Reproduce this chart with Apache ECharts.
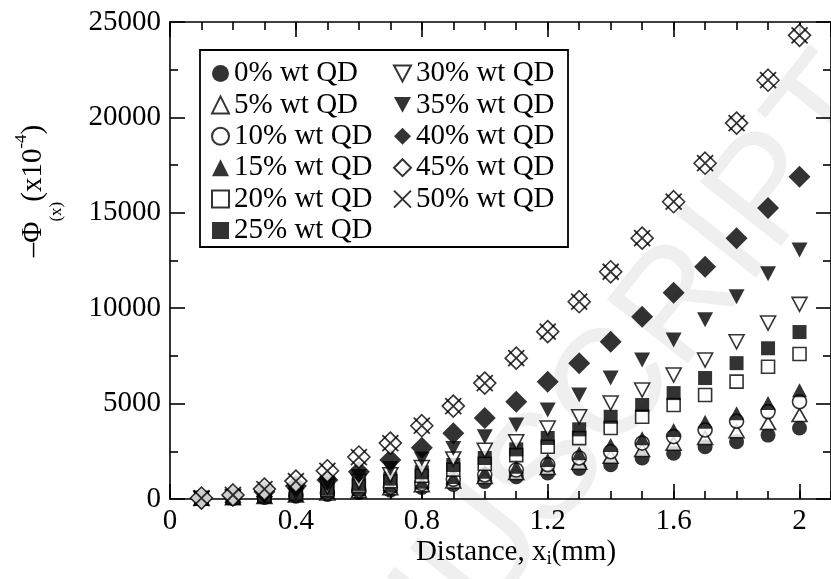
<!DOCTYPE html>
<html>
<head>
<meta charset="utf-8">
<script src="https://cdn.jsdelivr.net/npm/echarts@6/dist/echarts.min.js"></script>
<style>
html,body{margin:0;padding:0;background:#fff;}
#c{width:831px;height:579px;}
</style>
</head>
<body>
<div id="c"></div>
<script>
// ---- data ----
const distance = [0.1,0.2,0.3,0.4,0.5,0.6,0.7,0.8,0.9,1.0,1.1,1.2,1.3,1.4,1.5,1.6,1.7,1.8,1.9,2.0];
const seriesNames = ['0% wt QD','5% wt QD','10% wt QD','15% wt QD','20% wt QD','25% wt QD','30% wt QD','35% wt QD','40% wt QD','45% wt QD','50% wt QD'];
const qd0  = [10,38,85,150,235,340,460,600,760,920,1170,1360,1600,1800,2150,2400,2740,3000,3350,3720];
const qd5  = [11,45,100,180,285,410,560,720,920,1150,1360,1620,1900,2220,2570,2900,3200,3550,3980,4400];
const qd10 = [13,51,115,205,320,460,620,810,1030,1260,1520,1800,2150,2480,2930,3270,3620,4080,4580,5100];
const qd15 = [14,57,128,228,355,510,700,910,1150,1430,1690,2040,2400,2830,3190,3620,4050,4500,5030,5700];
const qd20 = [19,76,170,305,480,690,930,1220,1540,1850,2300,2740,3190,3720,4310,4930,5450,6150,6930,7600];
const qd25 = [22,88,200,350,550,790,1070,1400,1780,2150,2600,3200,3650,4310,4925,5550,6340,7120,7900,8750];
const qd30 = [26,100,230,410,650,930,1270,1650,2100,2550,3000,3720,4310,5030,5710,6500,7280,8240,9220,10200];
const qd35 = [33,130,300,520,820,1180,1600,2100,2650,3265,3880,4660,5450,6340,7280,8330,9400,10600,11800,13050];
const qd40 = [42,170,380,680,1000,1430,2040,2690,3450,4240,5100,6150,7120,8240,9550,10810,12170,13670,15250,16890];
const qd45 = [50,210,520,940,1480,2200,2930,3840,4870,6075,7380,8770,10340,11910,13670,15580,17600,19700,21950,24300];
const qd50 = [50,210,520,940,1480,2200,2930,3840,4870,6075,7380,8770,10340,11910,13670,15580,17600,19700,21950,24300];
const seriesValues = [qd0,qd5,qd10,qd15,qd20,qd25,qd30,qd35,qd40,qd45,qd50];
const xTicksMajor = 0.4, xTicksMinor = 0.1, xMin = 0, xMax = 2.1;
const yTicksMajor = 5000, yMin = 0, yMax = 25000;

// ---- styling ----
const F = 'Liberation Serif';
const filled = {color:'#000', borderColor:'#000', borderWidth:0};
const hollow = {color:'#fff', borderColor:'#000', borderWidth:1.6};
const cross = {color:'transparent', borderColor:'#000', borderWidth:1.8};
const DOWN = 'path://M0,0L10,0L5,9.3Z';
const marks = [
  {symbol:'circle', size:15, st:filled},
  {symbol:'triangle', size:[15,13], st:hollow},
  {symbol:'circle', size:14, st:hollow},
  {symbol:'triangle', size:[15,14], st:filled},
  {symbol:'rect', size:13, st:hollow},
  {symbol:'rect', size:14, st:filled},
  {symbol:DOWN, size:[15,14], st:hollow},
  {symbol:DOWN, size:[16,15], st:filled},
  {symbol:'diamond', size:22, st:filled},
  {symbol:'diamond', size:22, st:hollow},
  {symbol:'path://M0,0L10,10M10,0L0,10', size:16, st:cross}
];

const series = seriesNames.map((name,i)=>({
  name: name,
  type: 'scatter',
  xAxisIndex: 0, yAxisIndex: 0,
  symbol: marks[i].symbol,
  symbolSize: marks[i].size,
  symbolKeepAspect: false,
  itemStyle: marks[i].st,
  z: 2 + i*0.01,
  data: distance.map((x,k)=>[x, seriesValues[i][k]])
}));

const axisLineStyle = {color:'#000', width:1.6};
function xAx(pos, interval, len, showLine, showLabel){
  return {
    type:'value', position:pos, min:xMin, max:xMax, interval:interval,
    axisLine:{show:showLine, onZero:false, lineStyle:axisLineStyle},
    axisTick:{show:true, inside:true, length:len, lineStyle:axisLineStyle},
    axisLabel:{show:showLabel, showMaxLabel:false, margin:8, fontSize:29, fontFamily:F, color:'#000',
      formatter:v=>String(+(+v).toFixed(1))},
    splitLine:{show:false}
  };
}
function yAx(pos, showLabel){
  return {
    type:'value', position:pos, min:yMin, max:yMax, interval:yTicksMajor,
    axisLine:{show:true, onZero:false, lineStyle:axisLineStyle},
    axisTick:{show:true, inside:true, length:15, lineStyle:axisLineStyle},
    minorTick:{show:true, splitNumber:2, length:8, lineStyle:axisLineStyle},
    axisLabel:{show:showLabel, margin:9, fontSize:29, fontFamily:F, color:'#000',
      formatter:v=>String(Math.round(v))},
    splitLine:{show:false}
  };
}

const legendCommon = {
  orient:'vertical', itemWidth:17, itemHeight:17, itemGap:0.4,
  textStyle:{fontSize:29, fontFamily:F, color:'#000', lineHeight:31},
  selectedMode:false
};
const legendItems = seriesNames.map((n,i)=>({name:n, icon:marks[i].symbol}));

const chart = echarts.init(document.getElementById('c'), null, {renderer:'canvas'});
chart.setOption({
  animation:false,
  backgroundColor:'#fff',
  grid:{left:170, right:-6, top:22, bottom:80},
  xAxis:[
    xAx('bottom', xTicksMajor, 15, true, true),
    xAx('bottom', xTicksMinor, 8, false, false),
    xAx('top', xTicksMajor, 15, true, false),
    xAx('top', xTicksMinor, 8, false, false)
  ],
  yAxis:[ yAx('left', true), yAx('right', false) ],
  legend:[
    Object.assign({}, legendCommon, {data:legendItems.slice(0,6), left:206, top:53}),
    Object.assign({}, legendCommon, {data:legendItems.slice(6), left:388, top:53})
  ],
  graphic:[
    {type:'text', x:860, y:80, rotation:0.9, z:-10, silent:true,
      style:{text:'MANUSCRIPT', fontSize:150, fontFamily:'Liberation Sans', fontWeight:'normal',
        fill:'#efefef', align:'right', verticalAlign:'middle'}},
    {type:'rect', z:3, silent:true, shape:{x:200, y:50, width:368, height:197},
      style:{fill:'transparent', stroke:'#000', lineWidth:1.8}},
    {type:'text', x:33, y:191, rotation:Math.PI/2, z:5, silent:true,
      style:{text:'{m|–Φ}{sb|(x)}{m|(x10}{sp|-4}{m|)}', align:'center', verticalAlign:'middle',
        rich:{
          m:{fontSize:29, fontFamily:F, fill:'#000'},
          sb:{fontSize:17, fontFamily:F, fill:'#000', padding:[48,0,0,0]},
          sp:{fontSize:17, fontFamily:F, fill:'#000', padding:[0,0,22,0]}
        }}},
    {type:'text', x:516, y:552, z:5, silent:true,
      style:{text:'{m|Distance, x}{sb|i}{m|(mm)}', align:'center', verticalAlign:'middle',
        rich:{
          m:{fontSize:29, fontFamily:F, fill:'#000'},
          sb:{fontSize:19, fontFamily:F, fill:'#000', padding:[14,0,0,0]}
        }}}
  ],
  series: series
});
</script>
</body>
</html>
